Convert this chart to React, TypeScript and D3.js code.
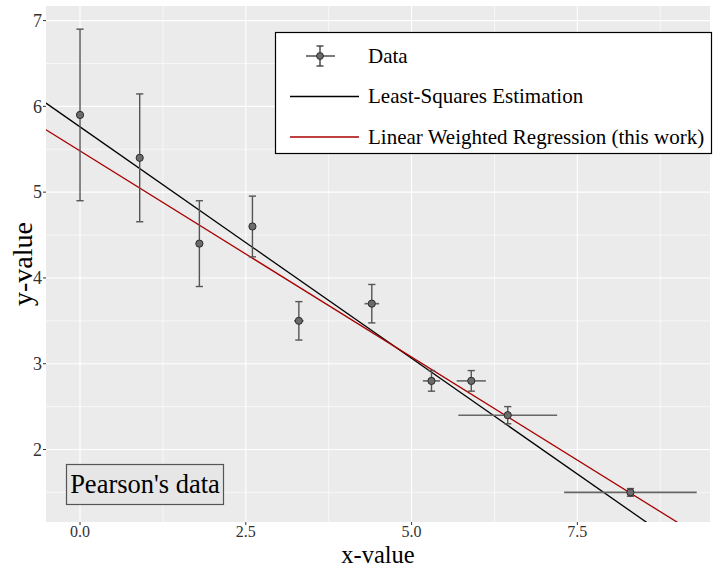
import React from "react";
import * as d3 from "d3";

// Pearson's data, with York weights as sigma
const xVals = [0, 0.9, 1.8, 2.6, 3.3, 4.4, 5.3, 5.9, 6.45, 8.3];
const yVals = [5.9, 5.4, 4.4, 4.6, 3.5, 3.7, 2.8, 2.8, 2.4, 1.5];
const xErr = [0.032, 0.032, 0.045, 0.035, 0.071, 0.11, 0.13, 0.22, 0.745, 1.0];
const yErr = [1.0, 0.745, 0.5, 0.354, 0.224, 0.224, 0.12, 0.12, 0.1, 0.045];

// fitted lines: [intercept, slope]
const lsFit = [5.7612, -0.5396];
const yorkFit = [5.4799, -0.4805];

const xMajor = [0, 2.5, 5, 7.5];
const xMinor = [1.25, 3.75, 6.25, 8.75];
const yMajor = [2, 3, 4, 5, 6, 7];
const yMinor = [1.5, 2.5, 3.5, 4.5, 5.5, 6.5];

const legendLabels = ["Data", "Least-Squares Estimation", "Linear Weighted Regression (this work)"];

const W = 714, H = 569;
const panel = { left: 46, right: 710, top: 6, bottom: 522 };
const FONT = "'Liberation Serif', 'Times New Roman', serif";
const RED = "#a80000";

export default function App() {
  const x = d3.scaleLinear().domain([-0.513, 9.5]).range([panel.left, panel.right]);
  const y = d3.scaleLinear().domain([1.155, 7.17]).range([panel.bottom, panel.top]);
  const [x0, x1] = x.domain();

  const fitLine = (fit: number[]) =>
    d3.line<number>().x(d => x(d)).y(d => y(fit[0] + fit[1] * d))([x0, x1]) || "";

  const pts = xVals.map((v, i) => ({ x: v, y: yVals[i], ex: xErr[i], ey: yErr[i] }));
  const cap = 3.6;

  return (
    <svg width={W} height={H} style={{ position: "absolute", left: 0, top: 0, background: "#fff" }} fontFamily={FONT}>
      <defs>
        <clipPath id="panel">
          <rect x={panel.left} y={panel.top} width={panel.right - panel.left} height={panel.bottom - panel.top} />
        </clipPath>
      </defs>
      <rect x={panel.left} y={panel.top} width={panel.right - panel.left} height={panel.bottom - panel.top} fill="#ebebeb" />

      {/* grid */}
      {xMinor.map(d => (
        <line key={"xm" + d} x1={x(d)} x2={x(d)} y1={panel.top} y2={panel.bottom} stroke="#fff" strokeWidth={0.6} />
      ))}
      {yMinor.map(d => (
        <line key={"ym" + d} x1={panel.left} x2={panel.right} y1={y(d)} y2={y(d)} stroke="#fff" strokeWidth={0.6} />
      ))}
      {xMajor.map(d => (
        <line key={"xM" + d} x1={x(d)} x2={x(d)} y1={panel.top} y2={panel.bottom} stroke="#fff" strokeWidth={1.1} />
      ))}
      {yMajor.map(d => (
        <line key={"yM" + d} x1={panel.left} x2={panel.right} y1={y(d)} y2={y(d)} stroke="#fff" strokeWidth={1.1} />
      ))}

      <g clipPath="url(#panel)">
        <path d={fitLine(lsFit)} stroke="#000" strokeWidth={1.3} fill="none" />
        <path d={fitLine(yorkFit)} stroke={RED} strokeWidth={1.3} fill="none" />

        {pts.map((p, i) => (
          <g key={i} stroke="#555" strokeWidth={1.4}>
            <line x1={x(p.x - p.ex)} x2={x(p.x + p.ex)} y1={y(p.y)} y2={y(p.y)} stroke="#666" strokeWidth={1.6} />
            <line x1={x(p.x)} x2={x(p.x)} y1={y(p.y - p.ey)} y2={y(p.y + p.ey)} />
            <line x1={x(p.x) - cap} x2={x(p.x) + cap} y1={y(p.y - p.ey)} y2={y(p.y - p.ey)} />
            <line x1={x(p.x) - cap} x2={x(p.x) + cap} y1={y(p.y + p.ey)} y2={y(p.y + p.ey)} />
            <circle cx={x(p.x)} cy={y(p.y)} r={3.6} fill="#6b6b6b" stroke="#2b2b2b" strokeWidth={1} />
          </g>
        ))}
      </g>

      {/* axes */}
      {yMajor.map(d => (
        <g key={"yt" + d}>
          <line x1={panel.left - 3} x2={panel.left} y1={y(d)} y2={y(d)} stroke="#333" strokeWidth={1} />
          <text x={panel.left - 4} y={y(d)} dy="0.35em" textAnchor="end" fontSize={18} fill="#333">{d}</text>
        </g>
      ))}
      {xMajor.map(d => (
        <g key={"xt" + d}>
          <line x1={x(d)} x2={x(d)} y1={panel.bottom} y2={panel.bottom + 3} stroke="#333" strokeWidth={1} />
          <text x={x(d)} y={panel.bottom + 15} textAnchor="middle" fontSize={16} fill="#333">{d3.format(".1f")(d)}</text>
        </g>
      ))}
      <text x={(panel.left + panel.right) / 2} y={563} textAnchor="middle" fontSize={24.5} fill="#000">x-value</text>
      <text transform={`translate(32,${(panel.top + panel.bottom) / 2}) rotate(-90)`} textAnchor="middle" fontSize={28} fill="#000">y-value</text>

      {/* annotation */}
      <rect x={66.5} y={464.5} width={157} height={40} fill="#e6e6e6" stroke="#555" strokeWidth={1.2} />
      <text x={145} y={493} textAnchor="middle" fontSize={26.5} fill="#000">Pearson's data</text>

      {/* legend */}
      <g>
        <rect x={275.5} y={32.5} width={436} height={121} fill="#fff" stroke="#000" strokeWidth={1.2} />
        {legendLabels.map((lab, i) => {
          const cy = 56 + i * 40.5;
          return (
            <g key={lab}>
              {i === 0 ? (
                <g stroke="#333" strokeWidth={1.3}>
                  <line x1={306} x2={335} y1={cy} y2={cy} />
                  <line x1={320} x2={320} y1={cy - 10} y2={cy + 10} />
                  <line x1={316.5} x2={323.5} y1={cy - 10} y2={cy - 10} />
                  <line x1={316.5} x2={323.5} y1={cy + 10} y2={cy + 10} />
                  <circle cx={320} cy={cy} r={3.4} fill="#6b6b6b" stroke="#2b2b2b" strokeWidth={1} />
                </g>
              ) : (
                <line x1={290} x2={359} y1={cy} y2={cy} stroke={i === 1 ? "#000" : RED} strokeWidth={1.5} />
              )}
              <text x={368} y={cy} dy="0.33em" fontSize={21} fill="#000">{lab}</text>
            </g>
          );
        })}
      </g>
    </svg>
  );
}
